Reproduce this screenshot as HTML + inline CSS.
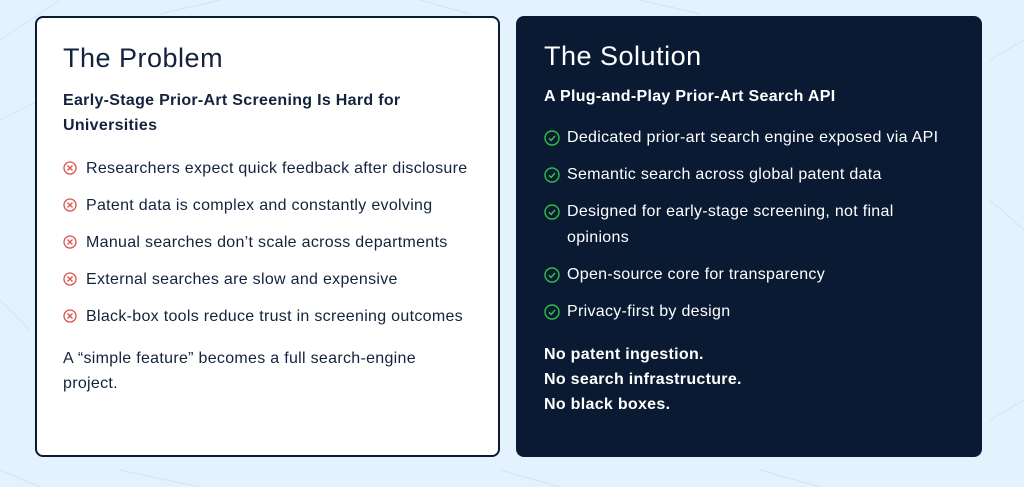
<!DOCTYPE html>
<html><head><style>
body{margin:0;width:1024px;height:487px;background:#e3f2fc;font-family:"Liberation Sans",sans-serif;position:relative;overflow:hidden}
.card{position:absolute;top:16px;height:441px;box-sizing:border-box;border-radius:8px;letter-spacing:0.3px}
.l{left:35px;width:465px;background:#fff;border:2px solid #0d1b30;color:#13233d}
.r{left:516px;width:466px;background:#0a1a33;color:#fff}
.t{position:absolute;font-size:27px;white-space:nowrap;letter-spacing:0.5px}
.s{position:absolute;font-size:16px;font-weight:bold;line-height:25px}
.i{position:absolute;font-size:16px;line-height:26px;white-space:nowrap}
.i svg{position:absolute;left:-23px;top:5px}
.p{position:absolute;font-size:16px;line-height:25px}
</style></head><body>
<svg width="1024" height="487" style="position:absolute;left:0;top:0" stroke="#cfe6f6" fill="none" stroke-width="1">
<path d="M0 40 L60 0 M0 120 L40 100 M990 60 L1024 40 M990 200 L1024 230 M0 300 L30 330 M990 420 L1024 400 M0 470 L40 487 M420 0 L470 14 M640 0 L700 14 M220 0 L160 14 M500 470 L560 487 M760 470 L820 487 M120 470 L200 487"/>
</svg>
<div class="card l">
<div class="t" style="left:26px;top:25px">The Problem</div>
<div class="s" style="left:26px;top:70px;width:380px">Early-Stage Prior-Art Screening Is Hard for Universities</div>
<div class="i" style="left:49px;top:138px"><svg width="14" height="14"><circle cx="7" cy="7" r="6" stroke="#d9534f" stroke-width="1.3" fill="none"/><path d="M4.5 4.5L9.5 9.5M9.5 4.5L4.5 9.5" stroke="#d9534f" stroke-width="1.3"/></svg>Researchers expect quick feedback after disclosure</div>
<div class="i" style="left:49px;top:175px"><svg width="14" height="14"><circle cx="7" cy="7" r="6" stroke="#d9534f" stroke-width="1.3" fill="none"/><path d="M4.5 4.5L9.5 9.5M9.5 4.5L4.5 9.5" stroke="#d9534f" stroke-width="1.3"/></svg>Patent data is complex and constantly evolving</div>
<div class="i" style="left:49px;top:212px"><svg width="14" height="14"><circle cx="7" cy="7" r="6" stroke="#d9534f" stroke-width="1.3" fill="none"/><path d="M4.5 4.5L9.5 9.5M9.5 4.5L4.5 9.5" stroke="#d9534f" stroke-width="1.3"/></svg>Manual searches don’t scale across departments</div>
<div class="i" style="left:49px;top:249px"><svg width="14" height="14"><circle cx="7" cy="7" r="6" stroke="#d9534f" stroke-width="1.3" fill="none"/><path d="M4.5 4.5L9.5 9.5M9.5 4.5L4.5 9.5" stroke="#d9534f" stroke-width="1.3"/></svg>External searches are slow and expensive</div>
<div class="i" style="left:49px;top:286px"><svg width="14" height="14"><circle cx="7" cy="7" r="6" stroke="#d9534f" stroke-width="1.3" fill="none"/><path d="M4.5 4.5L9.5 9.5M9.5 4.5L4.5 9.5" stroke="#d9534f" stroke-width="1.3"/></svg>Black-box tools reduce trust in screening outcomes</div>
<div class="p" style="left:26px;top:328px;width:390px">A “simple feature” becomes a full search-engine project.</div>
</div>
<div class="card r">
<div class="t" style="left:28px;top:25px">The Solution</div>
<div class="s" style="left:28px;top:68px">A Plug-and-Play Prior-Art Search API</div>
<div class="i" style="left:51px;top:109px"><svg width="16" height="16"><circle cx="8" cy="8" r="7" stroke="#2fbf4a" stroke-width="1.4" fill="none"/><path d="M5 8.3L7.2 10.4L11 6" stroke="#2fbf4a" stroke-width="1.5" fill="none"/></svg>Dedicated prior-art search engine exposed via API</div>
<div class="i" style="left:51px;top:146px"><svg width="16" height="16"><circle cx="8" cy="8" r="7" stroke="#2fbf4a" stroke-width="1.4" fill="none"/><path d="M5 8.3L7.2 10.4L11 6" stroke="#2fbf4a" stroke-width="1.5" fill="none"/></svg>Semantic search across global patent data</div>
<div class="i" style="left:51px;top:183px;white-space:normal;width:350px"><svg width="16" height="16"><circle cx="8" cy="8" r="7" stroke="#2fbf4a" stroke-width="1.4" fill="none"/><path d="M5 8.3L7.2 10.4L11 6" stroke="#2fbf4a" stroke-width="1.5" fill="none"/></svg>Designed for early-stage screening, not final<br>opinions</div>
<div class="i" style="left:51px;top:246px"><svg width="16" height="16"><circle cx="8" cy="8" r="7" stroke="#2fbf4a" stroke-width="1.4" fill="none"/><path d="M5 8.3L7.2 10.4L11 6" stroke="#2fbf4a" stroke-width="1.5" fill="none"/></svg>Open-source core for transparency</div>
<div class="i" style="left:51px;top:283px"><svg width="16" height="16"><circle cx="8" cy="8" r="7" stroke="#2fbf4a" stroke-width="1.4" fill="none"/><path d="M5 8.3L7.2 10.4L11 6" stroke="#2fbf4a" stroke-width="1.5" fill="none"/></svg>Privacy-first by design</div>
<div class="s" style="left:28px;top:326px">No patent ingestion.<br>No search infrastructure.<br>No black boxes.</div>
</div>
</body></html>
